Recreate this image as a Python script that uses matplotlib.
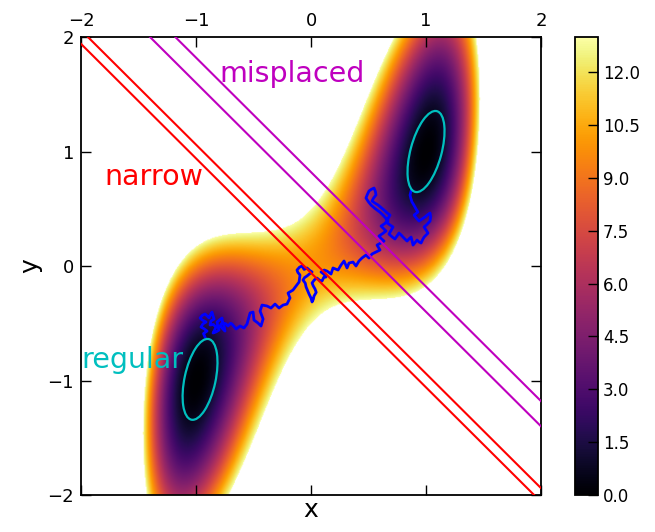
import numpy as np
import matplotlib
matplotlib.use("Agg")
import matplotlib.pyplot as plt
from matplotlib.patches import Ellipse

# --- potential surface (double well, minima at (-1,-1) and (1,1)) ---
well_height = 10.0      # A in A (x^2-1)^2
coupling_far = 6.3      # (y-x)^2 stiffness away from the saddle
coupling_near = 7.0     # extra stiffness close to the saddle
coupling_width = 1.3
vmax = 13.0
cbar_ticks = [0.0, 1.5, 3.0, 4.5, 6.0, 7.5, 9.0, 10.5, 12.0]

# --- dividing lines x + y = c ---
narrow_c = [-0.06, 0.06]
misplaced_c = [0.60, 0.82]

# --- state ellipses ---
ell_cx = [1.0, -0.965]
ell_cy = [1.0, -0.99]
ell_major = [0.73, 0.72]
ell_minor = [0.27, 0.27]
ell_angle = [75, 78]

# --- trajectory (x, y) ---
traj_points = [
    (-0.922, -0.620), (-0.935, -0.590), (-0.904, -0.568), (-0.930, -0.548), (-0.957, -0.533),
    (-0.940, -0.505), (-0.913, -0.489), (-0.948, -0.470), (-0.965, -0.454), (-0.944, -0.430),
    (-0.922, -0.419), (-0.900, -0.440), (-0.887, -0.454), (-0.875, -0.425), (-0.861, -0.402),
    (-0.852, -0.435), (-0.843, -0.463), (-0.870, -0.480), (-0.878, -0.515), (-0.850, -0.510),
    (-0.826, -0.533), (-0.840, -0.560), (-0.852, -0.585), (-0.825, -0.575), (-0.800, -0.559),
    (-0.812, -0.520), (-0.817, -0.489), (-0.795, -0.470), (-0.774, -0.454), (-0.770, -0.490),
    (-0.791, -0.524), (-0.770, -0.545), (-0.748, -0.568), (-0.755, -0.530), (-0.765, -0.498),
    (-0.740, -0.505), (-0.722, -0.524), (-0.700, -0.500), (-0.687, -0.507),
    (-0.652, -0.550), (-0.617, -0.524), (-0.583, -0.541), (-0.557, -0.507), (-0.530, -0.410),
    (-0.504, -0.402), (-0.496, -0.472), (-0.461, -0.498), (-0.435, -0.524), (-0.417, -0.463),
    (-0.443, -0.393), (-0.426, -0.341), (-0.383, -0.349), (-0.348, -0.367), (-0.313, -0.332),
    (-0.278, -0.367), (-0.243, -0.341), (-0.209, -0.332), (-0.183, -0.279), (-0.200, -0.236),
    (-0.157, -0.210), (-0.130, -0.175), (-0.104, -0.140),
    (-0.096, -0.079), (-0.115, -0.055), (-0.122, -0.035), (-0.100, -0.010), (-0.078, 0.000),
    (-0.060, -0.030), (-0.035, -0.017), (-0.010, -0.040), (0.009, -0.052), (-0.015, -0.070),
    (-0.035, -0.087), (-0.055, -0.100), (-0.070, -0.122), (-0.050, -0.150), (-0.043, -0.183),
    (-0.030, -0.215), (-0.017, -0.245), (0.000, -0.280), (0.009, -0.314), (0.020, -0.290),
    (0.026, -0.262), (0.045, -0.230), (0.035, -0.201), (0.020, -0.175), (0.009, -0.148),
    (0.030, -0.120), (0.052, -0.105), (0.075, -0.125), (0.096, -0.131), (0.110, -0.100),
    (0.130, -0.096), (0.110, -0.070), (0.087, -0.052), (0.115, -0.035), (0.139, -0.044),
    (0.174, -0.070), (0.191, -0.017), (0.235, -0.035), (0.261, 0.009), (0.287, 0.044),
    (0.313, -0.017), (0.330, 0.026), (0.365, 0.035), (0.391, 0.000), (0.417, 0.044),
    (0.443, 0.070), (0.478, 0.096), (0.504, 0.070), (0.530, 0.105), (0.565, 0.122),
    (0.600, 0.140), (0.585, 0.165), (0.574, 0.183), (0.605, 0.200), (0.635, 0.218),
    (0.610, 0.240), (0.591, 0.262), (0.625, 0.285), (0.652, 0.306), (0.628, 0.330),
    (0.609, 0.349), (0.640, 0.370), (0.670, 0.393), (0.648, 0.420), (0.626, 0.445),
    (0.600, 0.470), (0.574, 0.489), (0.548, 0.510), (0.522, 0.533), (0.500, 0.560),
    (0.478, 0.594), (0.490, 0.625), (0.504, 0.655), (0.525, 0.670), (0.548, 0.681),
    (0.560, 0.650), (0.565, 0.620), (0.545, 0.595), (0.530, 0.568), (0.555, 0.550),
    (0.583, 0.533), (0.610, 0.510), (0.635, 0.489), (0.660, 0.465), (0.687, 0.445),
    (0.670, 0.415), (0.652, 0.384), (0.685, 0.360), (0.713, 0.341), (0.695, 0.310),
    (0.678, 0.279), (0.705, 0.255), (0.730, 0.236),
    (0.750, 0.265), (0.765, 0.288), (0.785, 0.270), (0.800, 0.253), (0.818, 0.235),
    (0.835, 0.218), (0.855, 0.240), (0.870, 0.253), (0.880, 0.215), (0.887, 0.183),
    (0.905, 0.205), (0.922, 0.227), (0.940, 0.210), (0.957, 0.201), (0.970, 0.230),
    (0.983, 0.253), (1.000, 0.270), (1.017, 0.288), (1.000, 0.315), (0.983, 0.341),
    (1.010, 0.365), (1.035, 0.393), (1.040, 0.430), (1.035, 0.463), (1.010, 0.445),
    (0.991, 0.428), (0.965, 0.410), (0.939, 0.393), (0.915, 0.420), (0.896, 0.445),
    (0.915, 0.460), (0.930, 0.472), (0.915, 0.495), (0.904, 0.515), (0.890, 0.540),
    (0.878, 0.559), (0.868, 0.590), (0.861, 0.620), (0.870, 0.655),
]
traj_x = [p[0] for p in traj_points]
traj_y = [p[1] for p in traj_points]

plt.rcParams['font.family'] = 'DejaVu Sans'
plt.rcParams['xtick.direction'] = 'in'
plt.rcParams['ytick.direction'] = 'in'

fig = plt.figure(figsize=(6.55, 5.32), dpi=100)
ax = fig.add_axes([0.1237, 0.0695, 0.7023, 0.8609])
cax = fig.add_axes([0.878, 0.0695, 0.035, 0.8609])

xs = np.linspace(-2, 2, 500)
X, Y = np.meshgrid(xs, xs)
B = coupling_far + coupling_near * np.exp(-(X**2 + Y**2) / coupling_width)
V = well_height * (X**2 - 1)**2 + B * (Y - X)**2

cmap = plt.get_cmap('inferno').copy()
cmap.set_over('white')
im = ax.imshow(V, extent=[-2, 2, -2, 2], origin='lower', cmap=cmap,
               vmin=0, vmax=vmax, interpolation='bilinear', aspect='auto')

ax.plot(traj_x, traj_y, color='b', lw=2, zorder=3)

for cx, cy, w, h, a in zip(ell_cx, ell_cy, ell_major, ell_minor, ell_angle):
    ax.add_patch(Ellipse((cx, cy), w, h, angle=a, fill=False,
                         edgecolor=(0, 0.75, 0.75), lw=1.6, zorder=4))

line_x = np.array([-2.5, 2.5])
for c in narrow_c:
    ax.plot(line_x, c - line_x, color='r', lw=1.5, zorder=5)
for c in misplaced_c:
    ax.plot(line_x, c - line_x, color=(0.75, 0, 0.75), lw=1.5, zorder=5)

ax.text(-0.8, 1.61, 'misplaced', color=(0.75, 0, 0.75), fontsize=20.5)
ax.text(-1.8, 0.71, 'narrow', color='r', fontsize=20.5)
ax.text(-2.0, -0.89, 'regular', color=(0, 0.75, 0.75), fontsize=20.5)

ax.set_xlim(-2, 2)
ax.set_ylim(-2, 2)
ax.set_xticks([-2, -1, 0, 1, 2])
ax.set_yticks([-2, -1, 0, 1, 2])
ax.tick_params(top=True, right=True, labeltop=True, labelbottom=False,
               length=7, width=1, labelsize=13, pad=5)
ax.set_xlabel('x', fontsize=18, labelpad=2)
ax.set_ylabel('y', fontsize=18)
for s in ax.spines.values():
    s.set_linewidth(1.3)

cb = fig.colorbar(im, cax=cax, ticks=cbar_ticks, format='%.1f')
cb.ax.tick_params(direction='in', length=7, width=1, labelsize=12)
cb.outline.set_linewidth(1.3)

fig.savefig('out.png', dpi=100, facecolor='white')
